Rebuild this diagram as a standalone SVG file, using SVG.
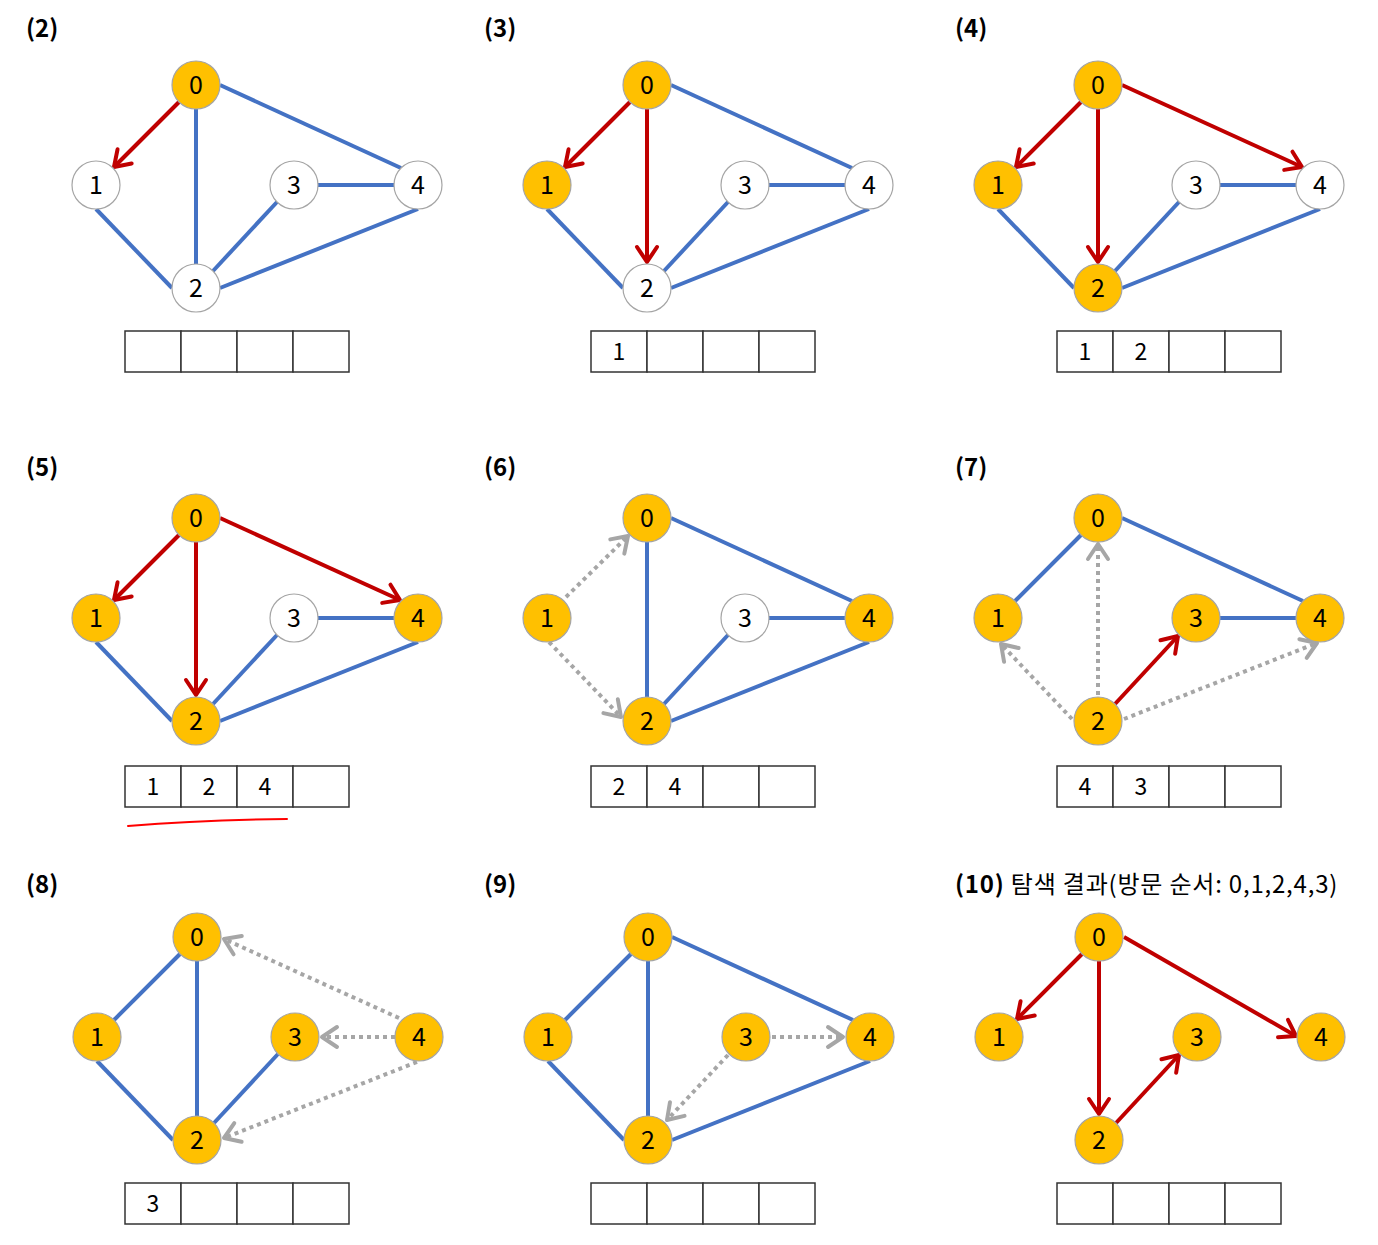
<svg xmlns="http://www.w3.org/2000/svg" width="1378" height="1245" viewBox="0 0 1378 1245">
<style>
.e{stroke:#4472C4;stroke-width:4;fill:none}
.r{stroke:#C00000;stroke-width:4;fill:none;marker-end:url(#ar)}
.g{stroke:#A6A6A6;stroke-width:4;stroke-dasharray:4 4;fill:none;marker-end:url(#ag)}
.y{fill:#FFC000;stroke:#A5A5A5;stroke-width:1.2}
.w{fill:#FFFFFF;stroke:#A5A5A5;stroke-width:1.2}
.t{font-family:"Noto Sans CJK KR","Noto Sans",sans-serif;font-size:25px;text-anchor:middle;fill:#000}
.h{font-family:"Noto Sans CJK KR","Noto Sans",sans-serif;font-size:24px;fill:#000}
.b{font-weight:bold}
.q{fill:#fff;stroke:#333;stroke-width:1.5}
.qt{font-family:"Noto Sans CJK KR","Noto Sans",sans-serif;font-size:23px;text-anchor:middle;fill:#000}
</style>
<defs>
<marker id="ar" markerUnits="userSpaceOnUse" viewBox="-18 -13 22 26" markerWidth="22" markerHeight="26" refX="0" refY="0" orient="auto">
<path d="M-15,-10 L0,0 L-15,10" fill="none" stroke="#C00000" stroke-width="4" stroke-linecap="round" stroke-linejoin="round"/>
</marker>
<marker id="ag" markerUnits="userSpaceOnUse" viewBox="-18 -13 22 26" markerWidth="22" markerHeight="26" refX="0" refY="0" orient="auto">
<path d="M-15,-10 L0,0 L-15,10" fill="none" stroke="#A6A6A6" stroke-width="4" stroke-linecap="round" stroke-linejoin="round"/>
</marker>
</defs>
<rect width="1378" height="1245" fill="#fff"/>

<g id="titles">
<text class="h b" x="26" y="37">(2)</text>
<text class="h b" x="484" y="37">(3)</text>
<text class="h b" x="955" y="37">(4)</text>
<text class="h b" x="26" y="476">(5)</text>
<text class="h b" x="484" y="476">(6)</text>
<text class="h b" x="955" y="476">(7)</text>
<text class="h b" x="26" y="893">(8)</text>
<text class="h b" x="484" y="893">(9)</text>
<text class="h" x="955" y="893" letter-spacing="0.8"><tspan class="b">(10)</tspan> 탐색 결과(방문 순서: 0,1,2,4,3)</text>
</g>

<!-- Panel 2 -->
<g id="panel2">
<g id="p2-connectors">
<line class="e" x1="196" y1="109" x2="196" y2="264"/>
<line class="e" x1="220" y1="85" x2="401" y2="168"/>
<line class="e" x1="96" y1="209" x2="172" y2="288"/>
<line class="e" x1="213" y1="271" x2="277" y2="202"/>
<line class="e" x1="220" y1="288" x2="418" y2="209"/>
<line class="e" x1="318" y1="185" x2="394" y2="185"/>
<line class="r" x1="179" y1="102" x2="114" y2="167"/>
</g>
<g id="p2-n0"><circle class="y" cx="196" cy="85" r="24"/><text class="t" x="196" y="94">0</text></g>
<g id="p2-n1"><circle class="w" cx="96" cy="185" r="24"/><text class="t" x="96" y="194">1</text></g>
<g id="p2-n2"><circle class="w" cx="196" cy="288" r="24"/><text class="t" x="196" y="297">2</text></g>
<g id="p2-n3"><circle class="w" cx="294" cy="185" r="24"/><text class="t" x="294" y="194">3</text></g>
<g id="p2-n4"><circle class="w" cx="418" cy="185" r="24"/><text class="t" x="418" y="194">4</text></g>
</g>

<!-- Panel 3 -->
<g id="panel3" transform="translate(451,0)">
<g id="p3-connectors">
<line class="e" x1="220" y1="85" x2="401" y2="168"/>
<line class="e" x1="96" y1="209" x2="172" y2="288"/>
<line class="e" x1="213" y1="271" x2="277" y2="202"/>
<line class="e" x1="220" y1="288" x2="418" y2="209"/>
<line class="e" x1="318" y1="185" x2="394" y2="185"/>
<line class="r" x1="179" y1="102" x2="114" y2="167"/>
<line class="r" x1="196" y1="109" x2="196" y2="262"/>
</g>
<g id="p3-n0"><circle class="y" cx="196" cy="85" r="24"/><text class="t" x="196" y="94">0</text></g>
<g id="p3-n1"><circle class="y" cx="96" cy="185" r="24"/><text class="t" x="96" y="194">1</text></g>
<g id="p3-n2"><circle class="w" cx="196" cy="288" r="24"/><text class="t" x="196" y="297">2</text></g>
<g id="p3-n3"><circle class="w" cx="294" cy="185" r="24"/><text class="t" x="294" y="194">3</text></g>
<g id="p3-n4"><circle class="w" cx="418" cy="185" r="24"/><text class="t" x="418" y="194">4</text></g>
</g>

<!-- Panel 4 -->
<g id="panel4" transform="translate(902,0)">
<g id="p4-connectors">
<line class="e" x1="96" y1="209" x2="172" y2="288"/>
<line class="e" x1="213" y1="271" x2="277" y2="202"/>
<line class="e" x1="220" y1="288" x2="418" y2="209"/>
<line class="e" x1="318" y1="185" x2="394" y2="185"/>
<line class="r" x1="179" y1="102" x2="114" y2="167"/>
<line class="r" x1="196" y1="109" x2="196" y2="262"/>
<line class="r" x1="220" y1="85" x2="400" y2="167"/>
</g>
<g id="p4-n0"><circle class="y" cx="196" cy="85" r="24"/><text class="t" x="196" y="94">0</text></g>
<g id="p4-n1"><circle class="y" cx="96" cy="185" r="24"/><text class="t" x="96" y="194">1</text></g>
<g id="p4-n2"><circle class="y" cx="196" cy="288" r="24"/><text class="t" x="196" y="297">2</text></g>
<g id="p4-n3"><circle class="w" cx="294" cy="185" r="24"/><text class="t" x="294" y="194">3</text></g>
<g id="p4-n4"><circle class="w" cx="418" cy="185" r="24"/><text class="t" x="418" y="194">4</text></g>
</g>

<!-- Panel 5 -->
<g id="panel5" transform="translate(0,433)">
<g id="p5-connectors">
<line class="e" x1="96" y1="209" x2="172" y2="288"/>
<line class="e" x1="213" y1="271" x2="277" y2="202"/>
<line class="e" x1="220" y1="288" x2="418" y2="209"/>
<line class="e" x1="318" y1="185" x2="394" y2="185"/>
<line class="r" x1="179" y1="102" x2="114" y2="167"/>
<line class="r" x1="196" y1="109" x2="196" y2="262"/>
<line class="r" x1="220" y1="85" x2="400" y2="167"/>
</g>
<g id="p5-n0"><circle class="y" cx="196" cy="85" r="24"/><text class="t" x="196" y="94">0</text></g>
<g id="p5-n1"><circle class="y" cx="96" cy="185" r="24"/><text class="t" x="96" y="194">1</text></g>
<g id="p5-n2"><circle class="y" cx="196" cy="288" r="24"/><text class="t" x="196" y="297">2</text></g>
<g id="p5-n3"><circle class="w" cx="294" cy="185" r="24"/><text class="t" x="294" y="194">3</text></g>
<g id="p5-n4"><circle class="y" cx="418" cy="185" r="24"/><text class="t" x="418" y="194">4</text></g>
</g>

<!-- Panel 6 -->
<g id="panel6" transform="translate(451,433)">
<g id="p6-connectors">
<line class="e" x1="196" y1="109" x2="196" y2="264"/>
<line class="e" x1="220" y1="85" x2="401" y2="168"/>
<line class="e" x1="213" y1="271" x2="277" y2="202"/>
<line class="e" x1="220" y1="288" x2="418" y2="209"/>
<line class="e" x1="318" y1="185" x2="394" y2="185"/>
<line class="g" x1="115" y1="164" x2="177" y2="103"/>
<line class="g" x1="98" y1="209" x2="170" y2="284"/>
</g>
<g id="p6-n0"><circle class="y" cx="196" cy="85" r="24"/><text class="t" x="196" y="94">0</text></g>
<g id="p6-n1"><circle class="y" cx="96" cy="185" r="24"/><text class="t" x="96" y="194">1</text></g>
<g id="p6-n2"><circle class="y" cx="196" cy="288" r="24"/><text class="t" x="196" y="297">2</text></g>
<g id="p6-n3"><circle class="w" cx="294" cy="185" r="24"/><text class="t" x="294" y="194">3</text></g>
<g id="p6-n4"><circle class="y" cx="418" cy="185" r="24"/><text class="t" x="418" y="194">4</text></g>
</g>

<!-- Panel 7 -->
<g id="panel7" transform="translate(902,433)">
<g id="p7-connectors">
<line class="e" x1="179" y1="102" x2="113" y2="168"/>
<line class="e" x1="220" y1="85" x2="401" y2="168"/>
<line class="e" x1="318" y1="185" x2="394" y2="185"/>
<line class="r" x1="213" y1="271" x2="276" y2="203"/>
<line class="g" x1="196" y1="262" x2="196" y2="111"/>
<line class="g" x1="170" y1="286" x2="99" y2="211"/>
<line class="g" x1="222" y1="286" x2="415" y2="210"/>
</g>
<g id="p7-n0"><circle class="y" cx="196" cy="85" r="24"/><text class="t" x="196" y="94">0</text></g>
<g id="p7-n1"><circle class="y" cx="96" cy="185" r="24"/><text class="t" x="96" y="194">1</text></g>
<g id="p7-n2"><circle class="y" cx="196" cy="288" r="24"/><text class="t" x="196" y="297">2</text></g>
<g id="p7-n3"><circle class="y" cx="294" cy="185" r="24"/><text class="t" x="294" y="194">3</text></g>
<g id="p7-n4"><circle class="y" cx="418" cy="185" r="24"/><text class="t" x="418" y="194">4</text></g>
</g>

<!-- Panel 8 -->
<g id="panel8" transform="translate(1,852)">
<g id="p8-connectors">
<line class="e" x1="179" y1="102" x2="113" y2="168"/>
<line class="e" x1="196" y1="109" x2="196" y2="264"/>
<line class="e" x1="96" y1="209" x2="172" y2="288"/>
<line class="e" x1="213" y1="271" x2="277" y2="202"/>
<line class="g" x1="398" y1="166" x2="223" y2="87"/>
<line class="g" x1="394" y1="185" x2="321" y2="185"/>
<line class="g" x1="416" y1="210" x2="223" y2="286"/>
</g>
<g id="p8-n0"><circle class="y" cx="196" cy="85" r="24"/><text class="t" x="196" y="94">0</text></g>
<g id="p8-n1"><circle class="y" cx="96" cy="185" r="24"/><text class="t" x="96" y="194">1</text></g>
<g id="p8-n2"><circle class="y" cx="196" cy="288" r="24"/><text class="t" x="196" y="297">2</text></g>
<g id="p8-n3"><circle class="y" cx="294" cy="185" r="24"/><text class="t" x="294" y="194">3</text></g>
<g id="p8-n4"><circle class="y" cx="418" cy="185" r="24"/><text class="t" x="418" y="194">4</text></g>
</g>

<!-- Panel 9 -->
<g id="panel9" transform="translate(452,852)">
<g id="p9-connectors">
<line class="e" x1="179" y1="102" x2="113" y2="168"/>
<line class="e" x1="196" y1="109" x2="196" y2="264"/>
<line class="e" x1="220" y1="85" x2="401" y2="168"/>
<line class="e" x1="96" y1="209" x2="172" y2="288"/>
<line class="e" x1="220" y1="288" x2="418" y2="209"/>
<line class="g" x1="320" y1="185" x2="391" y2="185"/>
<line class="g" x1="276" y1="203" x2="215" y2="268"/>
</g>
<g id="p9-n0"><circle class="y" cx="196" cy="85" r="24"/><text class="t" x="196" y="94">0</text></g>
<g id="p9-n1"><circle class="y" cx="96" cy="185" r="24"/><text class="t" x="96" y="194">1</text></g>
<g id="p9-n2"><circle class="y" cx="196" cy="288" r="24"/><text class="t" x="196" y="297">2</text></g>
<g id="p9-n3"><circle class="y" cx="294" cy="185" r="24"/><text class="t" x="294" y="194">3</text></g>
<g id="p9-n4"><circle class="y" cx="418" cy="185" r="24"/><text class="t" x="418" y="194">4</text></g>
</g>

<!-- Panel 10 -->
<g id="panel10" transform="translate(903,852)">
<g id="p10-connectors">
<line class="r" x1="179" y1="102" x2="114" y2="167"/>
<line class="r" x1="196" y1="109" x2="196" y2="262"/>
<line class="r" x1="221" y1="85" x2="393" y2="184"/>
<line class="r" x1="213" y1="271" x2="276" y2="203"/>
</g>
<g id="p10-n0"><circle class="y" cx="196" cy="85" r="24"/><text class="t" x="196" y="94">0</text></g>
<g id="p10-n1"><circle class="y" cx="96" cy="185" r="24"/><text class="t" x="96" y="194">1</text></g>
<g id="p10-n2"><circle class="y" cx="196" cy="288" r="24"/><text class="t" x="196" y="297">2</text></g>
<g id="p10-n3"><circle class="y" cx="294" cy="185" r="24"/><text class="t" x="294" y="194">3</text></g>
<g id="p10-n4"><circle class="y" cx="418" cy="185" r="24"/><text class="t" x="418" y="194">4</text></g>
</g>

<!-- Queues -->
<g id="q2"><rect class="q" x="125" y="331" width="56" height="41"/><rect class="q" x="181" y="331" width="56" height="41"/><rect class="q" x="237" y="331" width="56" height="41"/><rect class="q" x="293" y="331" width="56" height="41"/></g>
<g id="q3"><rect class="q" x="591" y="331" width="56" height="41"/><rect class="q" x="647" y="331" width="56" height="41"/><rect class="q" x="703" y="331" width="56" height="41"/><rect class="q" x="759" y="331" width="56" height="41"/>
<text class="qt" x="619" y="360">1</text></g>
<g id="q4"><rect class="q" x="1057" y="331" width="56" height="41"/><rect class="q" x="1113" y="331" width="56" height="41"/><rect class="q" x="1169" y="331" width="56" height="41"/><rect class="q" x="1225" y="331" width="56" height="41"/>
<text class="qt" x="1085" y="360">1</text><text class="qt" x="1141" y="360">2</text></g>

<g id="q5"><rect class="q" x="125" y="766" width="56" height="41"/><rect class="q" x="181" y="766" width="56" height="41"/><rect class="q" x="237" y="766" width="56" height="41"/><rect class="q" x="293" y="766" width="56" height="41"/>
<text class="qt" x="153" y="795">1</text><text class="qt" x="209" y="795">2</text><text class="qt" x="265" y="795">4</text></g>
<path id="underline" d="M128,826 Q200,820 287,819" fill="none" stroke="#FF0000" stroke-width="2" stroke-linecap="round"/>
<g id="q6"><rect class="q" x="591" y="766" width="56" height="41"/><rect class="q" x="647" y="766" width="56" height="41"/><rect class="q" x="703" y="766" width="56" height="41"/><rect class="q" x="759" y="766" width="56" height="41"/>
<text class="qt" x="619" y="795">2</text><text class="qt" x="675" y="795">4</text></g>
<g id="q7"><rect class="q" x="1057" y="766" width="56" height="41"/><rect class="q" x="1113" y="766" width="56" height="41"/><rect class="q" x="1169" y="766" width="56" height="41"/><rect class="q" x="1225" y="766" width="56" height="41"/>
<text class="qt" x="1085" y="795">4</text><text class="qt" x="1141" y="795">3</text></g>

<g id="q8"><rect class="q" x="125" y="1183" width="56" height="41"/><rect class="q" x="181" y="1183" width="56" height="41"/><rect class="q" x="237" y="1183" width="56" height="41"/><rect class="q" x="293" y="1183" width="56" height="41"/>
<text class="qt" x="153" y="1212">3</text></g>
<g id="q9"><rect class="q" x="591" y="1183" width="56" height="41"/><rect class="q" x="647" y="1183" width="56" height="41"/><rect class="q" x="703" y="1183" width="56" height="41"/><rect class="q" x="759" y="1183" width="56" height="41"/></g>
<g id="q10"><rect class="q" x="1057" y="1183" width="56" height="41"/><rect class="q" x="1113" y="1183" width="56" height="41"/><rect class="q" x="1169" y="1183" width="56" height="41"/><rect class="q" x="1225" y="1183" width="56" height="41"/></g>
</svg>
